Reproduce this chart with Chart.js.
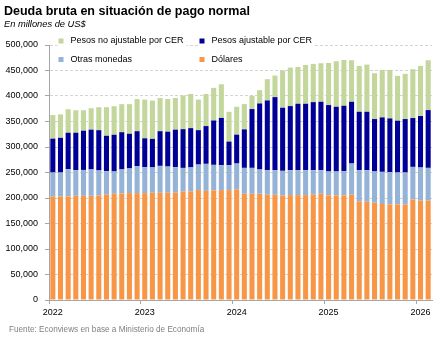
<!DOCTYPE html>
<html>
<head>
<meta charset="utf-8">
<script src="https://cdn.jsdelivr.net/npm/chart.js@4.4.1/dist/chart.umd.min.js"></script>
<style>
  html, body { margin: 0; padding: 0; background: #fff; }
</style>
</head>
<body>
<canvas id="myChart" width="443" height="340"></canvas>
<script>
// meses ene-2022 .. feb-2026
const meses = [
    '2022-01', '2022-02', '2022-03', '2022-04', '2022-05', '2022-06', '2022-07', '2022-08', '2022-09', '2022-10', '2022-11', '2022-12',
    '2023-01', '2023-02', '2023-03', '2023-04', '2023-05', '2023-06', '2023-07', '2023-08', '2023-09', '2023-10', '2023-11', '2023-12',
    '2024-01', '2024-02', '2024-03', '2024-04', '2024-05', '2024-06', '2024-07', '2024-08', '2024-09', '2024-10', '2024-11', '2024-12',
    '2025-01', '2025-02', '2025-03', '2025-04', '2025-05', '2025-06', '2025-07', '2025-08', '2025-09', '2025-10', '2025-11', '2025-12',
    '2026-01', '2026-02'
];
const anios = ['2022', '2023', '2024', '2025', '2026'];

// millones de US$
const dolares = [203000, 203000, 203000, 204400, 204400, 204400, 205000, 207000, 208300, 209000, 209600, 209600,
    209600, 210300, 210300, 210300, 210300, 213000, 213000, 215500, 214000, 215000, 215500, 215500,
    216800, 208300, 208300, 208300, 206400, 206400, 205000, 205700, 205700, 205700, 207000, 208300,
    205000, 205000, 205000, 206400, 193400, 192700, 190800, 188200, 187500, 187500, 187500, 197300,
    194700, 194700];
const otrasMonedas = [47000, 47000, 53500, 50100, 50600, 51600, 49000, 45600, 43700, 47000, 48400, 52800,
    50800, 49700, 52700, 51400, 50100, 46000, 47000, 50100, 53000, 50000, 48800, 48800,
    50800, 50800, 50800, 47600, 48200, 48200, 48300, 48900, 48900, 48900, 47600, 46300,
    47000, 47000, 47600, 61200, 61200, 61900, 61200, 63100, 63200, 62500, 62500, 63700,
    65100, 64400];
const pesosCER = [66400, 68000, 71500, 73500, 77000, 78000, 79000, 69400, 72000, 73000, 68000, 68600,
    56600, 56000, 68000, 68300, 73600, 76000, 77000, 67400, 74000, 87000, 92700, 46300,
    56600, 75500, 115300, 129500, 136700, 143200, 123700, 125600, 130200, 130200, 133400, 134100,
    130200, 126900, 128300, 121100, 114500, 114500, 102800, 106800, 105400, 101600, 104800, 95800,
    100900, 113300];
const pesosNoCER = [46200, 46000, 46000, 44000, 40000, 42000, 45000, 56000, 56000, 55000, 58000, 63000,
    76000, 75000, 65000, 64000, 62000, 66000, 67000, 60000, 63000, 64000, 66000, 58400,
    54700, 49500, 26000, 26100, 41700, 42300, 72900, 75500, 72200, 76100, 74900, 75500,
    82600, 89200, 89800, 81400, 89900, 92500, 89900, 93100, 95100, 87900, 88600, 95700,
    98300, 97700];

const titulo = 'Deuda bruta en situación de pago normal';
const subtitulo = 'En millones de US$';
const fuente = 'Fuente: Econviews en base a Ministerio de Economía';

const FONT = '"Liberation Sans", Arial, sans-serif';
Chart.defaults.font.family = FONT;
Chart.defaults.font.size = 9;
Chart.defaults.color = '#000';

const data = {
    labels: meses,
    datasets: [
        { label: 'Dólares', data: dolares, backgroundColor: '#f79646' },
        { label: 'Otras monedas', data: otrasMonedas, backgroundColor: '#95b3d7' },
        { label: 'Pesos ajustable por CER', data: pesosCER, backgroundColor: '#000096' },
        { label: 'Pesos no ajustable por CER', data: pesosNoCER, backgroundColor: '#c3d69b' }
    ]
};

// titulo, leyenda en dos columnas y fuente
const textos = {
    id: 'textos',
    afterDraw(chart) {
        const ctx = chart.ctx;
        ctx.save();
        ctx.fillStyle = '#000';
        ctx.textBaseline = 'alphabetic';
        ctx.font = 'bold 12.5px ' + FONT;
        ctx.fillText(titulo, 4, 15);
        ctx.font = 'italic 9.3px ' + FONT;
        ctx.fillText(subtitulo, 4, 27);

        const orden = [3, 2, 1, 0];
        const cols = [58.5, 199.5];
        const filas = [41, 59.5];
        ctx.font = '9px ' + FONT;
        ctx.textBaseline = 'middle';
        orden.forEach(function(d, k) {
            const ds = chart.data.datasets[d];
            const x = cols[k % 2];
            const y = filas[Math.floor(k / 2)];
            const w = ctx.measureText(ds.label).width;
            ctx.fillStyle = '#fff';
            ctx.fillRect(x - 1, y - 5, w + 16, 10);
            ctx.fillStyle = ds.backgroundColor;
            ctx.fillRect(x, y - 2.5, 5, 5);
            ctx.fillStyle = '#000';
            ctx.fillText(ds.label, x + 12, y);
        });

        ctx.textBaseline = 'alphabetic';
        ctx.fillStyle = '#808080';
        ctx.font = '8.2px ' + FONT;
        ctx.fillText(fuente, 9, 332);
        ctx.restore();
    }
};

const config = {
    type: 'bar',
    data: data,
    options: {
        responsive: false,
        animation: false,
        layout: { padding: { top: 45, right: 11, bottom: 0, left: 0 } },
        datasets: {
            bar: { categoryPercentage: 1, barPercentage: 0.66, borderWidth: 0 }
        },
        plugins: {
            legend: { display: false },
            tooltip: { enabled: false }
        },
        scales: {
            x: {
                stacked: true,
                offset: true,
                afterFit: function(scale) { scale.height = 40; },
                grid: {
                    offset: true,
                    drawOnChartArea: false,
                    tickLength: 4,
                    color: ctx => (ctx.index % 12 === 0) ? '#a6a6a6' : 'rgba(0,0,0,0)'
                },
                border: { color: '#a6a6a6' },
                ticks: {
                    autoSkip: false,
                    maxRotation: 0,
                    minRotation: 0,
                    padding: 3,
                    callback: (v, i) => (i % 12 === 0) ? anios[i / 12] : ''
                }
            },
            y: {
                stacked: true,
                min: 0,
                max: 500000,
                afterFit: function(scale) { scale.width = 49; },
                grid: {
                    color: '#d4d4d4',
                    tickColor: '#a6a6a6',
                    tickLength: 4
                },
                border: { color: '#a6a6a6', dash: [3, 2] },
                ticks: {
                    stepSize: 50000,
                    padding: 7,
                    callback: v => v.toLocaleString('en-US')
                }
            }
        }
    },
    plugins: [textos]
};

new Chart(document.getElementById('myChart').getContext('2d'), config);
</script>
</body>
</html>
